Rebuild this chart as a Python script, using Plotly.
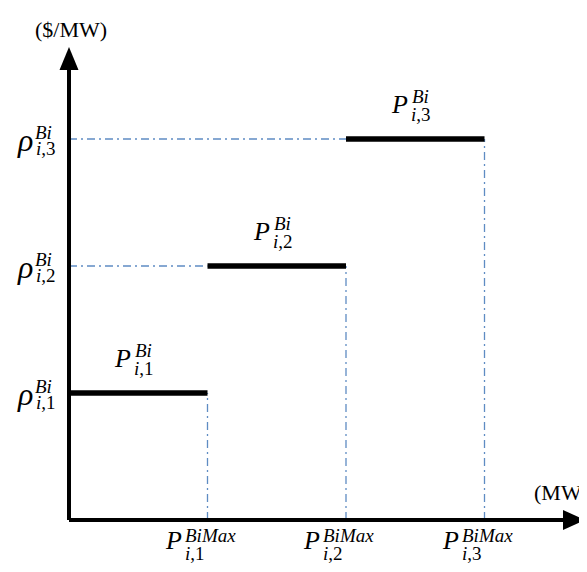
import plotly.graph_objects as go

# ---- data ----
mw_breaks = [0, 1, 2, 3]          # MW breakpoints of the bid blocks
price_levels = [1, 2, 3]          # price of each block
block_index = ["1", "2", "3"]     # subscript index of each block
y_title = "($/MW)"
x_title = "(MW)"

# ---- pixel geometry helpers (page body has an 8px margin) ----
W, H = 587, 572
PAD = 8
OX, OY = 69 - PAD, 520 - PAD      # origin in figure pixels
XU, YU = 138.5, 127.0             # pixels per data unit

def dx(p):
    return p / XU

def dy(p):
    return p / YU

x_range = [-OX / XU, (W - OX) / XU]
y_range = [-(H - OY) / YU, OY / YU]

x_axis_end = (585 - PAD - OX) / XU
y_axis_end = (OY - (47 - PAD)) / YU

FONT = "Liberation Serif"
GUIDE = "rgb(95,140,195)"
GUIDE_DASH = "8px,4px,2px,4px"

fig = go.Figure()

# guide lines (dash-dot)
for i, lvl in enumerate(price_levels):
    xe = mw_breaks[i + 1]
    fig.add_trace(go.Scatter(x=[xe, xe], y=[0, lvl], mode="lines",
                             line=dict(color=GUIDE, width=1.3, dash=GUIDE_DASH),
                             hoverinfo="skip"))
    if i > 0:
        fig.add_trace(go.Scatter(x=[0, mw_breaks[i]], y=[lvl, lvl], mode="lines",
                                 line=dict(color=GUIDE, width=1.3, dash=GUIDE_DASH),
                                 hoverinfo="skip"))

# step blocks
for i, lvl in enumerate(price_levels):
    fig.add_trace(go.Scatter(x=[mw_breaks[i], mw_breaks[i + 1]], y=[lvl, lvl],
                             mode="lines", line=dict(color="black", width=5.5),
                             hoverinfo="skip"))

shapes = []
# axes
shapes.append(dict(type="line", xref="x", yref="y", x0=0, y0=0, x1=0,
                   y1=y_axis_end - dy(20), line=dict(color="black", width=4)))
shapes.append(dict(type="line", xref="x", yref="y", x0=0, y0=0,
                   x1=x_axis_end - dx(20), y1=0, line=dict(color="black", width=4)))
# arrow heads
yt = y_axis_end
yb = y_axis_end - dy(23)
hw = dx(9.5)
shapes.append(dict(type="path", xref="x", yref="y",
                   path=f"M {-hw} {yb} L {hw} {yb} L 0 {yt} Z",
                   fillcolor="black", line=dict(color="black", width=0)))
xt = x_axis_end
xb = x_axis_end - dx(22)
hh = dy(10)
shapes.append(dict(type="path", xref="x", yref="y",
                   path=f"M {xb} {-hh} L {xb} {hh} L {xt} 0 Z",
                   fillcolor="black", line=dict(color="black", width=0)))

ann = []

def txt(x, y, text, size, xanchor, xshift, yshift):
    ann.append(dict(x=x, y=y, xref="x", yref="y", text=text, showarrow=False,
                    font=dict(family=FONT, size=size, color="black"),
                    xanchor=xanchor, yanchor="middle",
                    xshift=xshift, yshift=yshift))

for i, lvl in enumerate(price_levels):
    k = block_index[i]
    # price label on y axis
    txt(0, lvl, "<i>ρ</i>", 32, "right", -34, -1)
    txt(0, lvl, "<i>Bi</i>", 19, "left", -36, 7)
    txt(0, lvl, f"<i>i</i>,{k}", 19, "left", -35, -9)
    # block label above the step
    mid = (mw_breaks[i] + mw_breaks[i + 1]) / 2
    txt(mid, lvl, "<i>P</i>", 26, "right", -5, 35)
    txt(mid, lvl, "<i>Bi</i>", 19, "left", -5, 43)
    txt(mid, lvl, f"<i>i</i>,{k}", 19, "left", -6, 25)
    # capacity label under x axis
    xe = mw_breaks[i + 1]
    txt(xe, 0, "<i>P</i>", 26, "right", -24, -20)
    txt(xe, 0, "<i>BiMax</i>", 19, "left", -25, -15)
    txt(xe, 0, f"<i>i</i>,{k}", 19, "left", -25, -33)

# axis titles
txt(0, (OY - (29 - PAD)) / YU, y_title, 22, "center", 2, 0)
txt((560 - PAD - OX) / XU, (OY - (492 - PAD)) / YU, x_title, 22, "center", 1, 0)

fig.update_layout(
    width=W, height=H, margin=dict(l=0, r=0, t=0, b=0),
    paper_bgcolor="white", plot_bgcolor="white", showlegend=False,
    xaxis=dict(range=x_range, visible=False, fixedrange=True),
    yaxis=dict(range=y_range, visible=False, fixedrange=True),
    shapes=shapes, annotations=ann,
)

fig.write_html("out.html")
